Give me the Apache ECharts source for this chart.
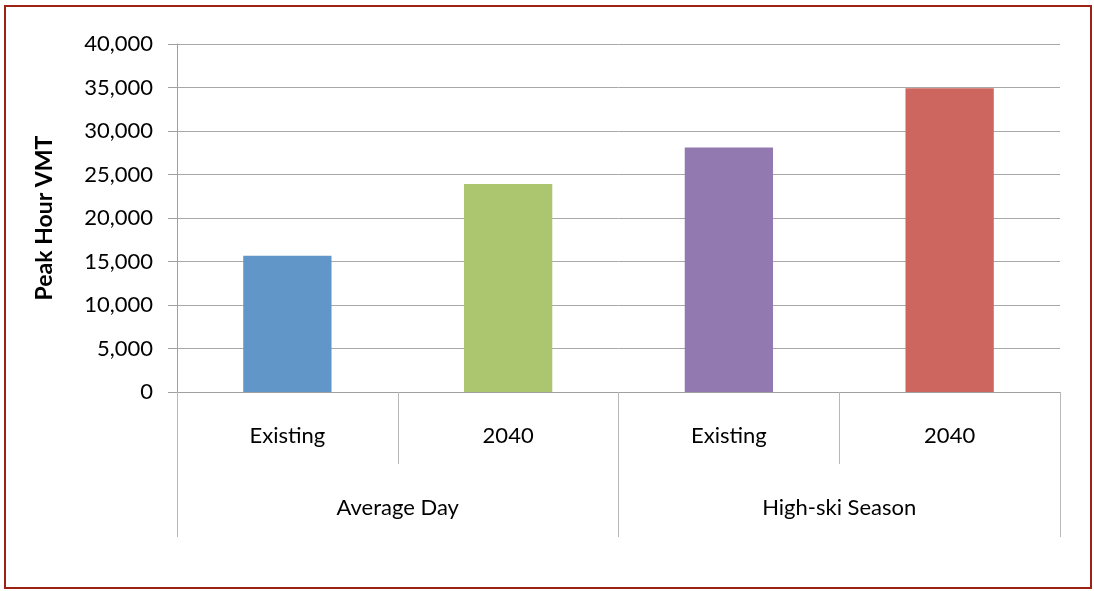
<!DOCTYPE html>
<html><head><meta charset="utf-8">
<script src="https://cdn.jsdelivr.net/npm/echarts@6/dist/echarts.min.js"></script>
<style>
html,body{margin:0;padding:0;background:#fff;}
#frame{position:absolute;left:4px;top:5px;width:1084px;height:580px;border:2px solid #9b2215;}
#chart{position:absolute;left:0;top:0;width:1094px;height:591px;}
</style></head>
<body>
<div id="frame"></div>
<div id="chart"></div>
<script>
const categories = ['Existing', '2040', 'Existing', '2040'];
const groups = ['Average Day', 'High-ski Season'];
const values = [15650, 23900, 28100, 34900];
const yTicks = [0, 5000, 10000, 15000, 20000, 25000, 30000, 35000, 40000];
const barColors = ['#6196c8', '#abc66e', '#927ab1', '#cc665e'];

const font = 'Lato, "Open Sans", sans-serif';
const chart = echarts.init(document.getElementById('chart'));
chart.setOption({
  animation: false,
  grid: {left: 177, right: 34, top: 44, bottom: 199},
  xAxis: [{
    type: 'category', data: categories, position: 'bottom',
    axisLine: {show: true, lineStyle: {color: '#a0a0a0', width: 1}},
    axisTick: {show: true, interval: 0, length: 72, lineStyle: {color: '#b8b8b8'}},
    axisLabel: {interval: 0, margin: 33, fontFamily: font, fontSize: 22, color: '#000'}
  }, {
    type: 'category', data: groups, position: 'bottom',
    axisLine: {show: false},
    axisTick: {show: true, interval: 0, length: 145, lineStyle: {color: '#b8b8b8'}},
    axisLabel: {interval: 0, margin: 105, fontFamily: font, fontSize: 22, color: '#000'}
  }],
  yAxis: {
    type: 'value', min: 0, max: 40000, interval: 5000,
    name: 'Peak Hour VMT', nameLocation: 'middle', nameRotate: 90, nameGap: 121,
    nameTextStyle: {fontFamily: font, fontSize: 23, fontWeight: 'bold', color: '#000'},
    axisLine: {show: true, lineStyle: {color: '#a0a0a0'}},
    axisTick: {show: true, length: 9, lineStyle: {color: '#a0a0a0'}},
    splitLine: {show: true, lineStyle: {color: '#a8a8a8', width: 1}},
    axisLabel: {margin: 24, fontFamily: font, fontSize: 22, color: '#000',
      formatter: v => v.toLocaleString('en-US')}
  },
  series: [{
    type: 'bar', xAxisIndex: 0, barWidth: '40%',
    data: values.map((v, i) => ({value: v, itemStyle: {color: barColors[i]}}))
  }]
});
</script>
</body></html>
